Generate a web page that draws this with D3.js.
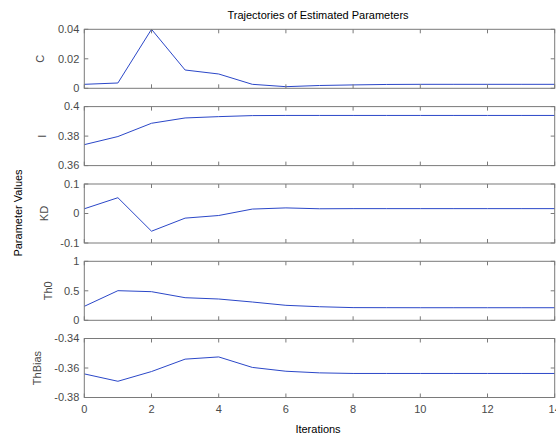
<!DOCTYPE html>
<html><head><meta charset="utf-8">
<script src="https://cdn.jsdelivr.net/npm/d3@7"></script>
<style>
body{margin:0;background:#fff;}
text{font-family:"Liberation Sans",Arial,Helvetica,sans-serif;}
</style></head>
<body><svg id="c" width="556" height="436"></svg>
<script>
const iterations = [0,1,2,3,4,5,6,7,8,9,10,11,12,13,14];
const seriesNames = ["C","I","KD","Th0","ThBias"];
const valuesC = [0.0027,0.0036,0.040,0.0124,0.0097,0.0027,0.0011,0.0019,0.0023,0.0026,0.0027,0.0027,0.0027,0.0027,0.0027];
const valuesI = [0.3742,0.3797,0.3887,0.3923,0.3932,0.3939,0.3940,0.3940,0.3940,0.3940,0.3940,0.3940,0.3940,0.3940,0.3940];
const valuesKD = [0.016,0.0535,-0.060,-0.0157,-0.0068,0.015,0.019,0.016,0.0165,0.0165,0.0165,0.0165,0.0165,0.0165,0.0165];
const valuesTh0 = [0.237,0.502,0.485,0.383,0.361,0.310,0.254,0.230,0.215,0.214,0.213,0.213,0.213,0.213,0.213];
const valuesThBias = [-0.3640,-0.3690,-0.3624,-0.3540,-0.3525,-0.3596,-0.3622,-0.3633,-0.3637,-0.3637,-0.3637,-0.3637,-0.3637,-0.3637,-0.3637];
const yDomains = [[0,0.04],[0.36,0.4],[-0.1,0.1],[0,1],[-0.38,-0.34]];
const yTicks = [[0,0.02,0.04],[0.36,0.38,0.4],[-0.1,0,0.1],[0,0.5,1],[-0.38,-0.36,-0.34]];
const xTicks = [0,2,4,6,8,10,12,14];
const titleText = "Trajectories of Estimated Parameters";
const xLabelText = "Iterations";
const yLabelText = "Parameter Values";

const allValues = [valuesC,valuesI,valuesKD,valuesTh0,valuesThBias];
const svg = d3.select("#c");
const left = 84.3, right = 554.7, panelH = 59, tops = [29.3,106.6,184,261.3,338.5];
const labelX = [40.5,42,44,48.5,37.5];
const axisColor = "#7a7a7a", textColor = "#4a4a4a", lineColor = "#2b47c8";
const x = d3.scaleLinear().domain([0,14]).range([left,right]);
const fmt = d => String(Math.round(d*1000)/1000);
const tl = 4;

allValues.forEach((vals,i)=>{
  const top = tops[i], bot = top+panelH;
  const y = d3.scaleLinear().domain(yDomains[i]).range([bot,top]);
  const g = svg.append("g");
  g.append("path").datum(vals.map((v,k)=>[iterations[k],v]))
    .attr("fill","none").attr("stroke",lineColor).attr("stroke-width",1)
    .attr("d",d3.line().x(d=>x(d[0])).y(d=>y(d[1])));
  xTicks.forEach(t=>{
    g.append("line").attr("x1",x(t)).attr("x2",x(t)).attr("y1",bot).attr("y2",bot-tl).attr("stroke",axisColor);
    g.append("line").attr("x1",x(t)).attr("x2",x(t)).attr("y1",top).attr("y2",top+tl).attr("stroke",axisColor);
  });
  yTicks[i].forEach(t=>{
    g.append("line").attr("x1",left).attr("x2",left+tl).attr("y1",y(t)).attr("y2",y(t)).attr("stroke",axisColor);
    g.append("line").attr("x1",right).attr("x2",right-tl).attr("y1",y(t)).attr("y2",y(t)).attr("stroke",axisColor);
    g.append("text").attr("x",left-5).attr("y",y(t)).attr("dy","0.35em").attr("text-anchor","end")
      .attr("font-size",11).attr("fill",textColor).text(fmt(t));
  });
  g.append("rect").attr("x",left).attr("y",top).attr("width",right-left).attr("height",panelH)
    .attr("fill","none").attr("stroke",axisColor).attr("stroke-width",1);
  g.append("text").attr("transform",`translate(${labelX[i]},${top+panelH/2}) rotate(-90)`).attr("dy","0.35em")
    .attr("text-anchor","middle").attr("font-size",11).attr("fill",textColor).text(seriesNames[i]);
  if(i===4){
    xTicks.forEach(t=>{
      g.append("text").attr("x",x(t)).attr("y",bot+12).attr("dy","0.35em").attr("text-anchor","middle")
        .attr("font-size",11).attr("fill",textColor).text(t);
    });
  }
});
svg.append("text").attr("x",318).attr("y",15).attr("dy","0.35em").attr("text-anchor","middle")
  .attr("font-size",11).attr("fill","#000").text(titleText);
svg.append("text").attr("x",318).attr("y",429).attr("dy","0.35em").attr("text-anchor","middle")
  .attr("font-size",11).attr("fill","#000").text(xLabelText);
svg.append("text").attr("transform","translate(18,213) rotate(-90)").attr("dy","0.35em")
  .attr("text-anchor","middle").attr("font-size",11).attr("fill","#000").text(yLabelText);
</script></body></html>
